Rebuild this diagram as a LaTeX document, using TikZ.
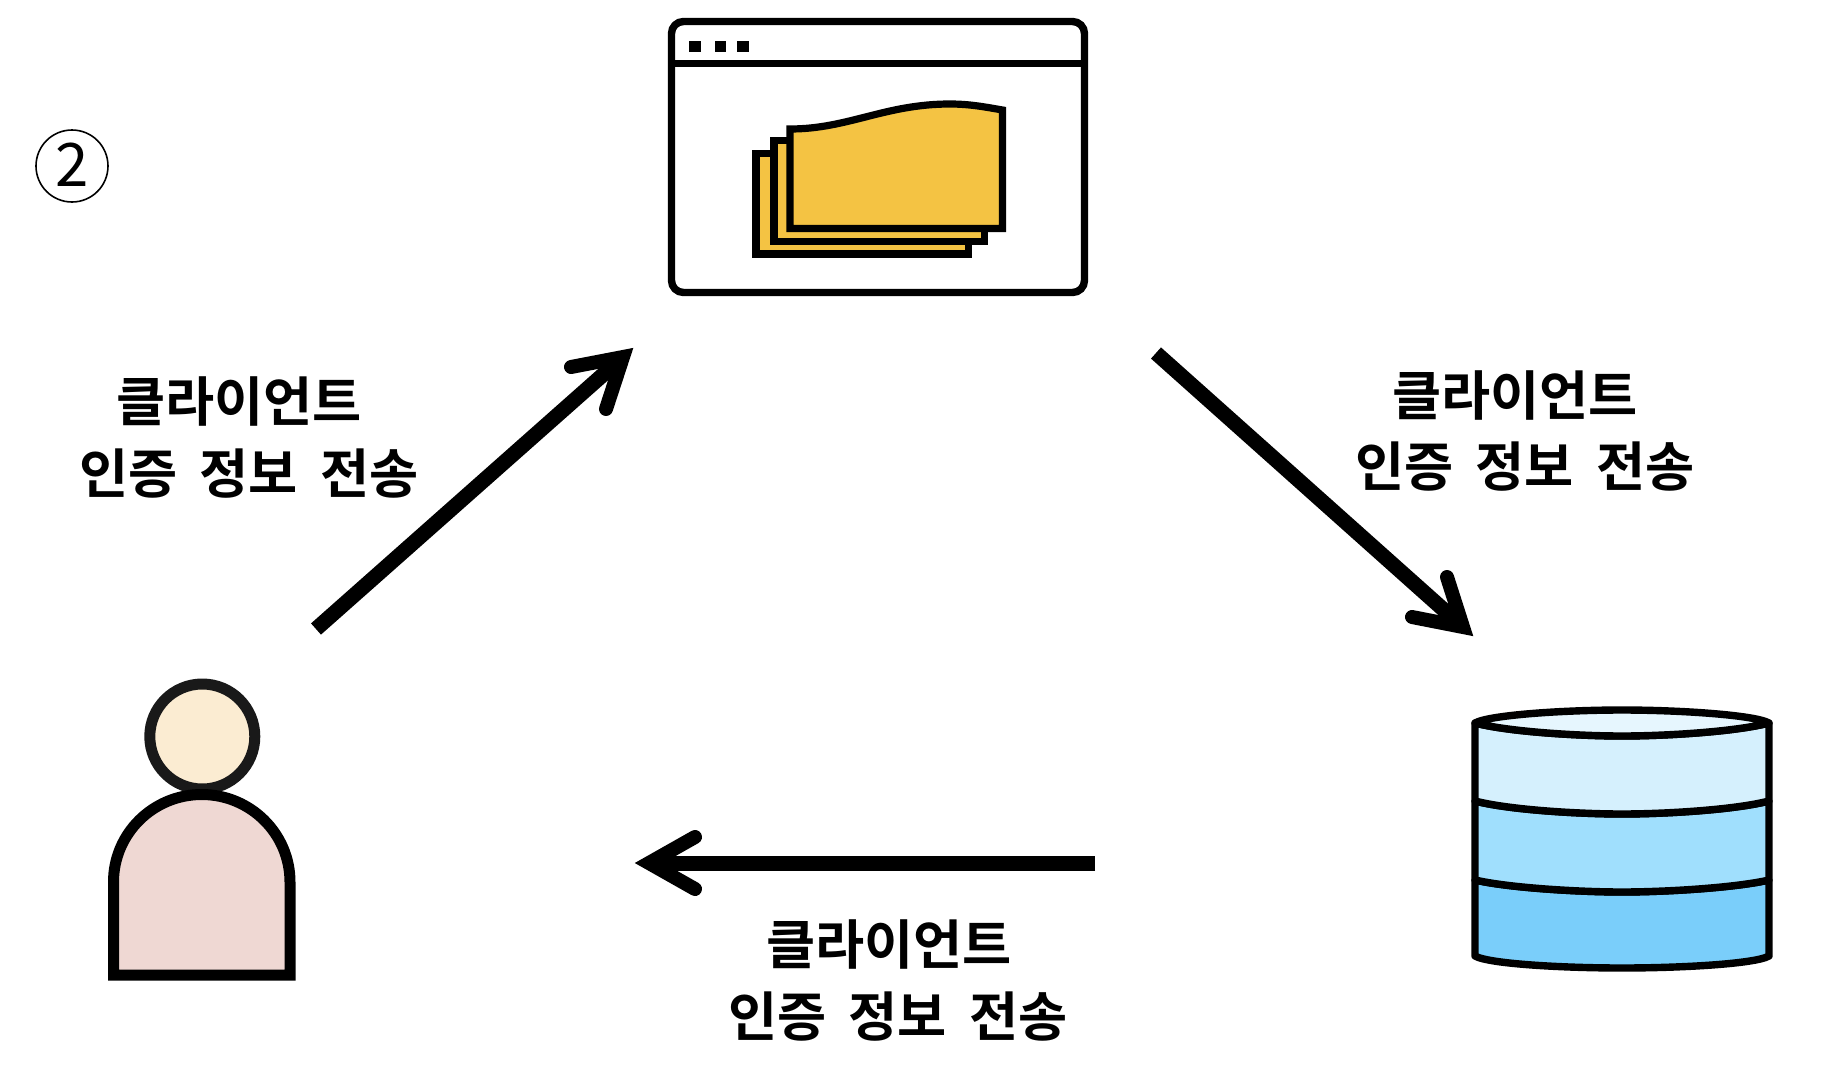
\documentclass[tikz,border=0pt]{standalone}
\usepackage{fontspec}
\newfontfamily\krfont{Noto Sans CJK KR}[BoldFont={Noto Sans CJK KR Bold}]
\newcommand{\wsp}{\hspace{11pt}}
\tikzset{
  px/.style={x=0.5pt,y=-0.5pt},
  lbl/.style={inner sep=0pt,font=\krfont\fontsize{26.7pt}{26.7pt}\selectfont\bfseries,text=black},
  shaft/.style={line width=7.5pt,draw=black},
  barb/.style={line width=7pt,draw=black,line cap=round,line join=miter,miter limit=10},
  ol/.style={draw=black,line width=3.7pt},
}
\begin{document}
\begin{tikzpicture}[px]
\useasboundingbox (0,0) rectangle (1822,1082);
% marker
\node[circle,draw=black,line width=0.8pt,minimum size=36pt,inner sep=0pt] (mark) at (72,166) {};
\node[inner sep=0pt,font=\fontspec{Noto Sans CJK KR}\fontsize{30pt}{30pt}\selectfont] (marktxt) at (72.5,165) {2};
% window
\draw[ol,fill=white,rounded corners=6pt] (671.5,21.5) rectangle (1084.5,292.5);
\coordinate (winL) at (671.5,63.5); \coordinate (winR) at (1084.5,63.5);
\draw[ol] (winL) -- (winR);
\fill (689,40.5) rectangle (700.5,52);
\fill (714.5,40.5) rectangle (725.5,52);
\fill (737,40.5) rectangle (749,52);
\tikzset{paper/.style={draw=black,line width=3.6pt,fill=paperc,miter limit=10}}
\definecolor{paperc}{HTML}{F4C343}
\draw[paper] (756,153.5) rectangle (968.5,254);
\draw[paper] (774,140.5) rectangle (984.5,241.5);
\draw[paper] (790,129) .. controls (848,129) and (885,104) .. (950,104) .. controls (970,104) and (985,107) .. (1002.5,110) -- (1002.5,228.5) -- (790,228.5) -- cycle;
% person
\definecolor{headc}{HTML}{FBECD2}
\definecolor{bodyc}{HTML}{EFD8D3}
\draw[draw=black!90,line width=5.5pt,fill=headc] (202.3,736.5) circle[radius=52.5];
\draw[draw=black,line width=5.5pt,fill=bodyc,miter limit=10] (113.5,975) -- (113.5,882) arc[start angle=180,end angle=0,x radius=88.25,y radius=-87.5] -- (290,975) -- cycle;
% database
\definecolor{dbA}{HTML}{D5F0FD}
\definecolor{dbB}{HTML}{A0DFFD}
\definecolor{dbC}{HTML}{7ACEFA}
\definecolor{dbT}{HTML}{E6F6FE}
\tikzset{dbl/.style={draw=black,line width=3.7pt,line join=round}}
\draw[dbl,fill=dbC] (1475,880) .. controls (1510,888) and (1580,892) .. (1622,892) .. controls (1664,892) and (1734,888) .. (1769,880) -- (1769,956) .. controls (1755,964) and (1680,968) .. (1622,968) .. controls (1564,968) and (1489,964) .. (1475,956) -- cycle;
\draw[dbl,fill=dbB] (1475,801) .. controls (1510,810) and (1580,814) .. (1622,814) .. controls (1664,814) and (1734,810) .. (1769,801) -- (1769,880) .. controls (1734,888) and (1664,892) .. (1622,892) .. controls (1580,892) and (1510,888) .. (1475,880) -- cycle;
\draw[dbl,fill=dbA] (1475,723) .. controls (1510,732) and (1580,736) .. (1622,736) .. controls (1664,736) and (1734,732) .. (1769,723) -- (1769,801) .. controls (1734,810) and (1664,814) .. (1622,814) .. controls (1580,814) and (1510,810) .. (1475,801) -- cycle;
\draw[dbl,fill=dbT] (1475,723) .. controls (1489,715) and (1564,710) .. (1622,710) .. controls (1680,710) and (1755,715) .. (1769,723) .. controls (1734,732) and (1664,736) .. (1622,736) .. controls (1580,736) and (1510,732) .. (1475,723) -- cycle;
% arrows
\coordinate (a1s) at (316,629); \coordinate (a1e) at (623,357);
\coordinate (a1b) at (571,367); \coordinate (a1c) at (606,409);
\coordinate (a2s) at (1156,353); \coordinate (a2e) at (1463,627);
\coordinate (a2b) at (1447,577); \coordinate (a2c) at (1412,617);
\coordinate (a3s) at (1095,863); \coordinate (a3e) at (649,863);
\coordinate (a3b) at (695,837); \coordinate (a3c) at (695,889);
\draw[shaft] (a1s) -- (a1e);
\draw[barb] (a1b) -- (a1e) -- (a1c);
\draw[shaft] (a2s) -- (a2e);
\draw[barb] (a2b) -- (a2e) -- (a2c);
\draw[shaft] (a3s) -- (a3e);
\draw[barb] (a3b) -- (a3e) -- (a3c);
% labels
\node[lbl] (l1a) at (239,401) {클라이언트};
\node[lbl] (l1b) at (249,474) {인증\wsp 정보\wsp 전송};
\node[lbl] (l2a) at (1515,395) {클라이언트};
\node[lbl] (l2b) at (1525,467) {인증\wsp 정보\wsp 전송};
\node[lbl] (l3a) at (889,944) {클라이언트};
\node[lbl] (l3b) at (898,1017) {인증\wsp 정보\wsp 전송};
\end{tikzpicture}
\end{document}
